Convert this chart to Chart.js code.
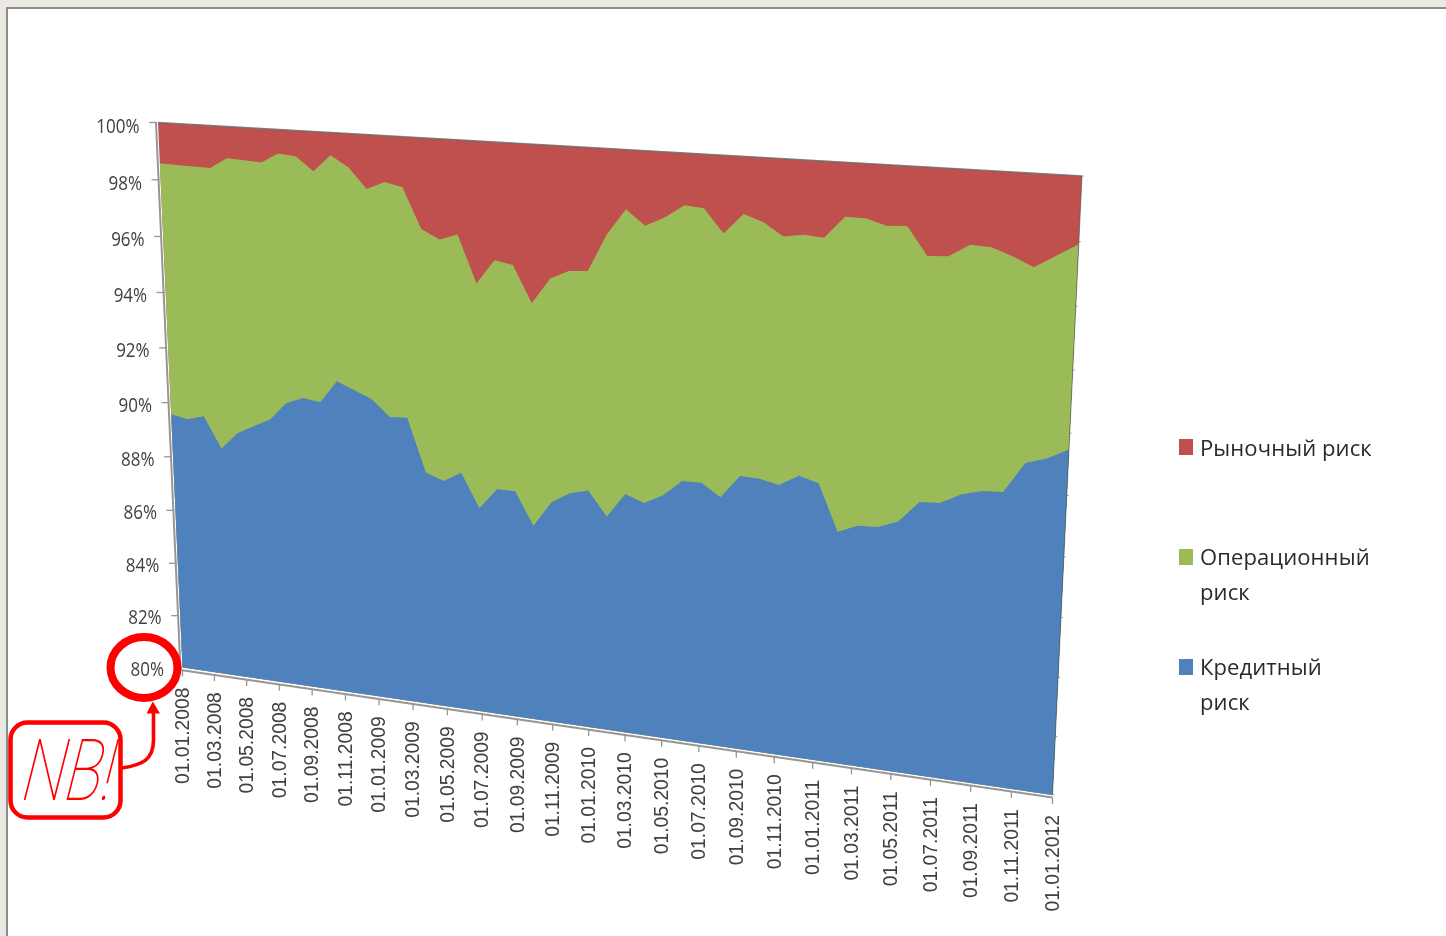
<!DOCTYPE html>
<html lang="ru">
<head>
<meta charset="utf-8">
<title>Структура риска</title>
<style>
    html, body { margin: 0; padding: 0; background: #ebe7e2; overflow: hidden; }
    #panel { position: absolute; left: 6px; top: 7px; width: 1440px; height: 929px; background: #fff;
             border-left: 2px solid #8c8c8c; border-top: 2px solid #8c8c8c; box-sizing: border-box; }
    #chart { position: absolute; left: 0; top: 0; }
</style>
<script src="https://cdn.jsdelivr.net/npm/chart.js@4"></script>
</head>
<body>
<div id="panel"></div>
<canvas id="chart" width="1446" height="936"></canvas>
<script>
const months = [
    '01.01.2008','01.02.2008','01.03.2008','01.04.2008','01.05.2008','01.06.2008','01.07.2008','01.08.2008','01.09.2008','01.10.2008','01.11.2008','01.12.2008',
    '01.01.2009','01.02.2009','01.03.2009','01.04.2009','01.05.2009','01.06.2009','01.07.2009','01.08.2009','01.09.2009','01.10.2009','01.11.2009','01.12.2009',
    '01.01.2010','01.02.2010','01.03.2010','01.04.2010','01.05.2010','01.06.2010','01.07.2010','01.08.2010','01.09.2010','01.10.2010','01.11.2010','01.12.2010',
    '01.01.2011','01.02.2011','01.03.2011','01.04.2011','01.05.2011','01.06.2011','01.07.2011','01.08.2011','01.09.2011','01.10.2011','01.11.2011','01.12.2011',
    '01.01.2012'
];
const creditRisk = [
    89.57,89.45,89.63,88.51,89.13,89.45,89.76,90.42,90.66,90.57,91.38,91.12,
    90.86,90.30,90.33,88.45,88.22,88.58,87.39,88.15,88.14,86.99,87.90,88.28,
    88.45,87.62,88.47,88.23,88.57,89.13,89.14,88.72,89.51,89.49,89.35,89.73,
    89.55,87.99,88.27,88.30,88.56,89.28,89.32,89.67,89.86,89.90,90.91,91.12,
    91.48
];
const operationalRisk = [
    9.01,9.11,8.91,10.02,9.77,9.42,9.07,8.76,8.46,8.08,7.85,7.73,
    7.30,8.14,7.97,8.48,8.40,8.25,7.83,7.90,7.80,7.71,7.68,7.60,
    7.48,9.57,9.59,9.33,9.31,9.19,9.12,8.77,8.65,8.45,8.18,7.90,
    8.03,10.30,10.01,9.79,9.57,7.95,7.95,8.00,7.78,7.51,6.20,6.40,
    6.44
];
const marketRisk = [
    1.42,1.44,1.46,1.47,1.10,1.13,1.17,0.82,0.88,1.35,0.77,1.15,
    1.84,1.56,1.70,3.07,3.38,3.17,4.78,3.95,4.06,5.30,4.42,4.12,
    4.07,2.81,1.94,2.44,2.12,1.68,1.74,2.51,1.84,2.06,2.47,2.37,
    2.42,1.71,1.72,1.91,1.87,2.77,2.73,2.33,2.36,2.59,2.89,2.48,
    2.08
];
const yTicks = [100, 98, 96, 94, 92, 90, 88, 86, 84, 82, 80];

// углы передней стенки 3D-диаграммы на картинке
const corners = { tl: [158, 122.5], tr: [1082, 176], br: [1052.5, 795], bl: [182.5, 667.5] };

// гомография: единичный квадрат -> четырёхугольник
function makeProjection(c) {
    const [x0, y0] = c.tl, [x1, y1] = c.tr, [x2, y2] = c.br, [x3, y3] = c.bl;
    const dx1 = x1 - x2, dx2 = x3 - x2, sx = x0 - x1 + x2 - x3;
    const dy1 = y1 - y2, dy2 = y3 - y2, sy = y0 - y1 + y2 - y3;
    const den = dx1 * dy2 - dx2 * dy1;
    const g = (sx * dy2 - dx2 * sy) / den;
    const h = (dx1 * sy - sx * dy1) / den;
    const a = x1 - x0 + g * x1, b = x3 - x0 + h * x3;
    const d = y1 - y0 + g * y1, e = y3 - y0 + h * y3;
    return (u, v) => {
        const w = g * u + h * v + 1;
        return { x: (a * u + b * v + x0) / w, y: (d * u + e * v + y0) / w };
    };
}
const unitToQuad = makeProjection(corners);

function project(chart, px, py) {
    const area = chart.chartArea;
    return unitToQuad((px - area.left) / (area.right - area.left), (py - area.top) / (area.bottom - area.top));
}

function strokeLine(ctx, a, b, color, width) {
    ctx.beginPath();
    ctx.moveTo(a.x, a.y);
    ctx.lineTo(b.x, b.y);
    ctx.strokeStyle = color;
    ctx.lineWidth = width;
    ctx.stroke();
}

// переносим точки линий из плоской области в перспективу
const perspectivePlugin = {
    id: 'perspective',
    afterDatasetsUpdate(chart) {
        chart.getSortedVisibleDatasetMetas().forEach(meta => {
            meta.data.forEach(pt => {
                const p = project(chart, pt.x, pt.y);
                pt.x = p.x;
                pt.y = p.y;
            });
        });
    },
    beforeDatasetsDraw(chart) {
        const ctx = chart.ctx;
        ctx.save();
        ctx.beginPath();
        ctx.moveTo(corners.tl[0], corners.tl[1]);
        ctx.lineTo(corners.tr[0], corners.tr[1]);
        ctx.lineTo(corners.br[0], corners.br[1]);
        ctx.lineTo(corners.bl[0], corners.bl[1]);
        ctx.closePath();
        ctx.clip();
    },
    afterDatasetsDraw(chart) {
        chart.ctx.restore();
    }
};

// оси и подписи рисуем сами, но по шкалам Chart.js
const axesPlugin = {
    id: 'axes3d',
    afterDraw(chart) {
        const ctx = chart.ctx;
        const xs = chart.scales.x, ys = chart.scales.y;
        const yTop = ys.getPixelForValue(100), yBot = ys.getPixelForValue(80);
        const xL = xs.getPixelForValue(0), xR = xs.getPixelForValue(months.length - 1);
        const tl = project(chart, xL, yTop), tr = project(chart, xR, yTop);
        const bl = project(chart, xL, yBot), br = project(chart, xR, yBot);
        const grey = '#969696';

        ctx.save();
        strokeLine(ctx, { x: tl.x - 2, y: tl.y }, { x: bl.x - 2, y: bl.y + 2.5 }, grey, 2);
        strokeLine(ctx, { x: bl.x - 2, y: bl.y + 2.5 }, { x: br.x, y: br.y + 2.5 }, grey, 2);
        strokeLine(ctx, tl, tr, 'rgba(105,105,105,0.85)', 1.5);
        strokeLine(ctx, tr, br, 'rgba(50,70,70,0.55)', 1);

        ctx.fillStyle = '#404040';
        ctx.textBaseline = 'middle';
        yTicks.forEach(v => {
            const py = ys.getPixelForValue(v);
            const l = project(chart, xL, py), r = project(chart, xR, py);
            strokeLine(ctx, { x: l.x - 9, y: l.y }, { x: l.x - 1, y: l.y }, grey, 1.3);
            strokeLine(ctx, r, { x: r.x + 2, y: r.y }, 'rgba(90,90,90,0.55)', 1);
            ctx.save();
            ctx.translate(l.x - 18.5, l.y + 3 + (v - 80) * 0.1);
            ctx.scale(1, 1.12);
            ctx.font = '17px "Open Sans"';
            ctx.textAlign = 'right';
            ctx.fillText(v + '%', 0, 0);
            ctx.restore();
        });

        months.forEach((label, i) => {
            if (i % 2) return;
            const p = project(chart, xs.getPixelForValue(i), yBot);
            strokeLine(ctx, { x: p.x, y: p.y + 2.5 }, { x: p.x, y: p.y + 9 }, grey, 1.3);
            ctx.save();
            ctx.translate(p.x + 1, p.y + 20);
            ctx.rotate(-Math.PI / 2);
            ctx.font = '19.3px "Liberation Sans"';
            ctx.textAlign = 'right';
            ctx.fillText(label, 0, 0);
            ctx.restore();
        });

        // легенда
        const legendRows = [
            { color: '#C0504D', top: 439, text: 455.5, lines: ['Рыночный риск'] },
            { color: '#9BBB59', top: 549, text: 564.8, lines: ['Операционный', 'риск'] },
            { color: '#4F81BD', top: 659, text: 674.8, lines: ['Кредитный', 'риск'] }
        ];
        ctx.textAlign = 'left';
        ctx.textBaseline = 'alphabetic';
        ctx.font = '22px "Open Sans"';
        ctx.letterSpacing = '0.1px';
        legendRows.forEach(row => {
            ctx.fillStyle = row.color;
            ctx.fillRect(1179, row.top, 14, 16);
            ctx.fillStyle = '#2a2a2a';
            row.lines.forEach((line, k) => ctx.fillText(line, 1200, row.text + k * 35));
        });
        ctx.letterSpacing = '0px';
        ctx.restore();
    }
};

// красная пометка NB!
const notePlugin = {
    id: 'note',
    afterDraw(chart) {
        const ctx = chart.ctx;
        ctx.save();
        ctx.strokeStyle = '#ff0000';
        ctx.fillStyle = '#ff0000';

        ctx.lineWidth = 8;
        ctx.beginPath();
        ctx.ellipse(144, 667.5, 33.5, 30.5, 0, 0, Math.PI * 2);
        ctx.stroke();

        ctx.lineWidth = 4.5;
        ctx.beginPath();
        ctx.roundRect(10.5, 722.5, 110, 95, 17);
        ctx.stroke();

        ctx.lineWidth = 3.6;
        ctx.beginPath();
        ctx.moveTo(122, 768);
        ctx.bezierCurveTo(142, 765, 153.5, 760, 153.5, 740);
        ctx.lineTo(153.5, 712);
        ctx.stroke();
        ctx.beginPath();
        ctx.moveTo(152.8, 701.5);
        ctx.lineTo(160, 713.5);
        ctx.lineTo(146.5, 713.5);
        ctx.closePath();
        ctx.fill();

        ctx.translate(21, 800);
        ctx.transform(0.8, 0, -0.14, 1.1, 0, 0);
        ctx.font = 'italic 100 78px Roboto';
        ctx.textBaseline = 'alphabetic';
        ctx.textAlign = 'left';
        ctx.fillText('NB!', 0, 0);
        ctx.restore();
    }
};

new Chart(document.getElementById('chart'), {
    type: 'line',
    data: {
        labels: months,
        datasets: [
            { label: 'Кредитный риск', data: creditRisk, backgroundColor: '#4F81BD', borderColor: '#4F81BD' },
            { label: 'Операционный риск', data: operationalRisk, backgroundColor: '#9BBB59', borderColor: '#9BBB59' },
            { label: 'Рыночный риск', data: marketRisk, backgroundColor: '#C0504D', borderColor: '#C0504D' }
        ].map(ds => Object.assign(ds, { fill: 'start', borderWidth: 0, pointRadius: 0, tension: 0 }))
    },
    options: {
        responsive: false,
        animation: false,
        layout: { padding: { left: 100, top: 100, right: 296, bottom: 106 } },
        scales: {
            x: { display: false },
            y: { display: false, stacked: true, min: 80, max: 100 }
        },
        plugins: { legend: { display: false }, tooltip: { enabled: false } }
    },
    plugins: [perspectivePlugin, axesPlugin, notePlugin]
});
</script>
</body>
</html>
